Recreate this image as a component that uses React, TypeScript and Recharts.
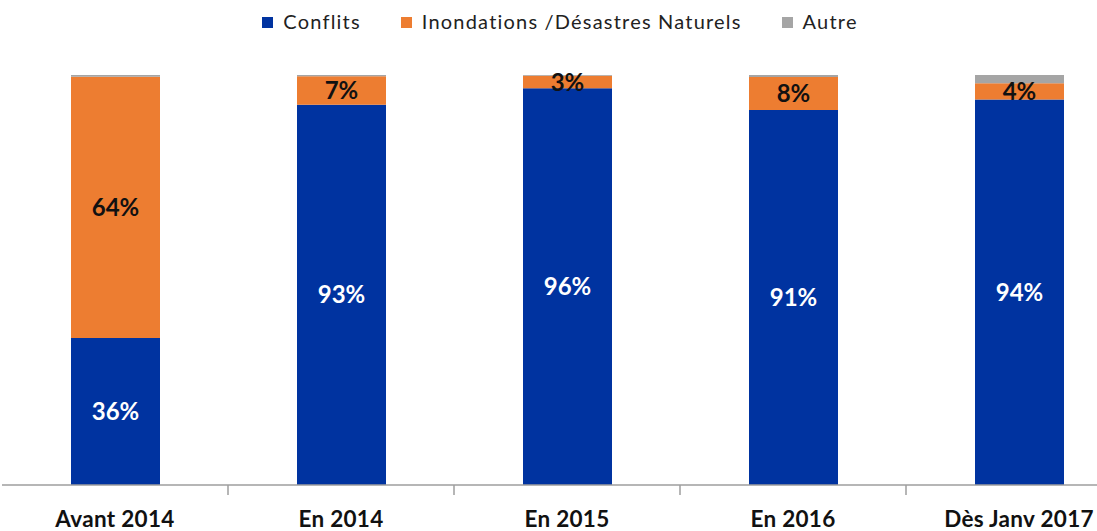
import React from "react";
import { BarChart, Bar, XAxis, YAxis, LabelList, Legend } from "recharts";

const categories = ["Avant 2014", "En 2014", "En 2015", "En 2016", "Dès Janv 2017"];
const conflits = [36, 93, 96, 91, 94];
const inondations = [64, 7, 3, 8, 4];
const autre = [0.4, 0.3, 0.2, 0.5, 2];

const seriesNames = ["Conflits", "Inondations /Désastres Naturels", "Autre"];
const colors = ["#0033A0", "#ED7D31", "#A5A5A5"];

const data = categories.map((c, i) => ({
  name: c,
  conflits: conflits[i],
  inondations: inondations[i],
  autre: autre[i],
}));

const CHART_W = 1132;
const MARGIN = { top: 75, right: 0, bottom: 6, left: 2 };
const FONT = "Lato, 'Open Sans', sans-serif";

const CustomTick = (props: any) => {
  const { x, y, payload } = props;
  const band = (CHART_W - MARGIN.left - MARGIN.right) / categories.length;
  const axisY = y - 8;
  return (
    <g>
      <line x1={x + band / 2} x2={x + band / 2} y1={axisY} y2={axisY + 10} stroke="#9E9E9E" strokeWidth={1.5} />
      <text x={x} y={y} dy={34} textAnchor="middle" fontFamily={FONT} fontWeight={700} fontSize={22.5} letterSpacing={0.3} fill="#111">
        {payload.value}
      </text>
    </g>
  );
};

const LegendContent = () => (
  <div style={{ display: "flex", justifyContent: "center", alignItems: "center", fontFamily: FONT, fontSize: 20, letterSpacing: 1.2, color: "#222", width: CHART_W - 12 }}>
    {seriesNames.map((n, i) => (
      <div key={n} style={{ display: "flex", alignItems: "center", marginRight: i < 2 ? 40 : 0 }}>
        <span style={{ display: "inline-block", width: 11, height: 11, background: colors[i], marginRight: 10, marginTop: 3 }} />
        <span>{n}</span>
      </div>
    ))}
  </div>
);

export default function App() {
  return (
    <div style={{ position: "absolute", left: 0, top: 0, width: 1097, height: 531, overflow: "hidden", background: "#fff" }}>
      <BarChart width={CHART_W} height={531} data={data} margin={MARGIN} barSize={89} stackOffset="expand">
        <XAxis
          dataKey="name"
          height={40}
          tickLine={false}
          tick={<CustomTick />}
          axisLine={{ stroke: "#9E9E9E", strokeWidth: 1.5 }}
          interval={0}
        />
        <YAxis hide domain={[0, 1]} />
        <Legend verticalAlign="middle" align="center" wrapperStyle={{ top: 9, left: 0 }} content={<LegendContent />} />
        <Bar dataKey="conflits" stackId="a" fill={colors[0]} isAnimationActive={false}>
          <LabelList dataKey="conflits" position="center" formatter={(v: any) => `${v}%`} fill="#fff" fontFamily={FONT} fontWeight={700} fontSize={24} />
        </Bar>
        <Bar dataKey="inondations" stackId="a" fill={colors[1]} isAnimationActive={false}>
          <LabelList dataKey="inondations" position="center" formatter={(v: any) => `${v}%`} fill="#111" fontFamily={FONT} fontWeight={700} fontSize={24} />
        </Bar>
        <Bar dataKey="autre" stackId="a" fill={colors[2]} isAnimationActive={false} />
      </BarChart>
    </div>
  );
}
